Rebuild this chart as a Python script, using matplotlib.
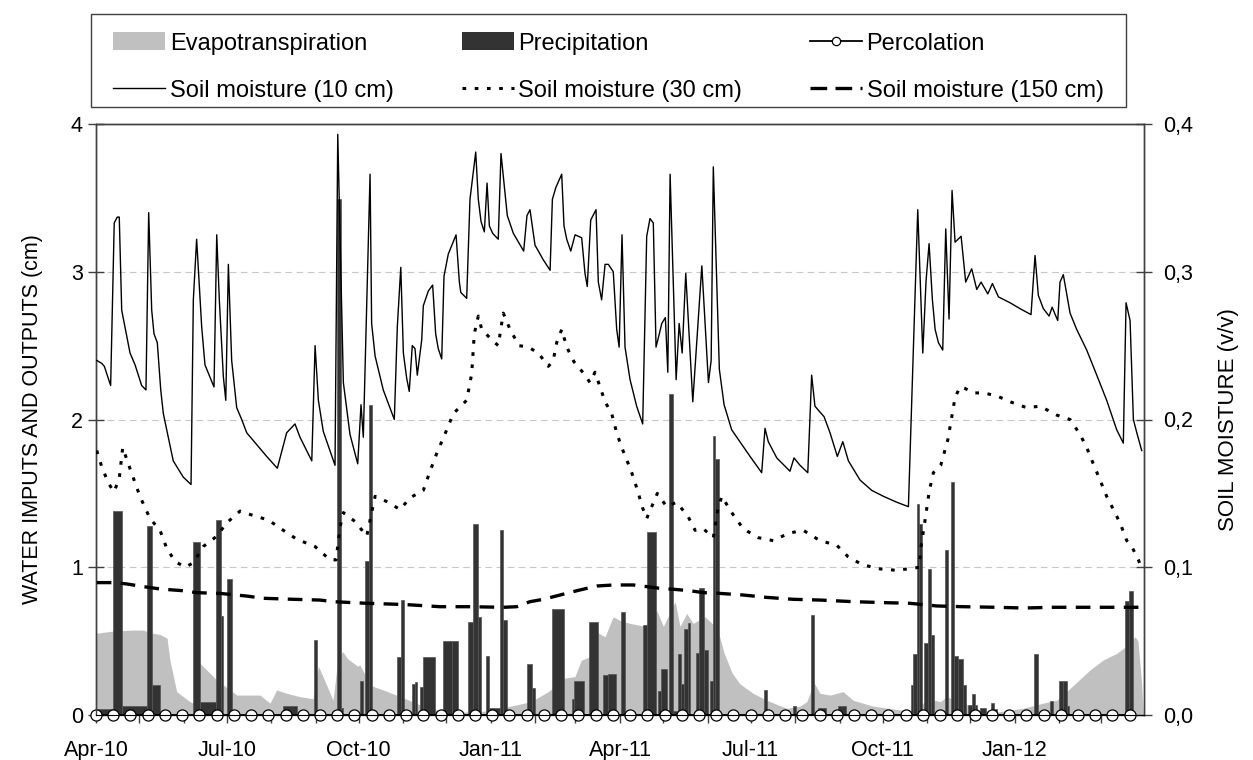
import matplotlib
matplotlib.use("Agg")
import matplotlib.pyplot as plt
import matplotlib.dates as mdates
from matplotlib.patches import Patch, Rectangle
from matplotlib.lines import Line2D
from matplotlib.ticker import FuncFormatter
import numpy as np
from datetime import datetime

plt.rcParams['font.family'] = ['Liberation Sans', 'DejaVu Sans']

# day offsets are counted from 1 April 2010
START = datetime(2010, 4, 1)

# evapotranspiration (cm), outline of the grey area
et_day = [0, 11.8, 25.8, 32.7, 39.7, 44.6, 49.5, 51.5, 56.2, 65.5, 67.6, 72.4, 84.1, 93.3, 98.0,
          114.2, 121.2, 125.9, 132.8, 142.1, 151.2, 154.9, 158.1, 165.1, 168.4, 171.8, 175.3,
          182.3, 183.7, 191.4, 203.2, 214.8, 228.7, 242.7, 265.8, 280.0, 289.0, 303.0, 315.0,
          326.6, 333.6, 338.0, 343.0, 348.8, 354.6, 360.2, 365.0, 372.0, 382.5, 390.6, 395.2,
          403.4, 406.8, 411.5, 415.9, 424.2, 429.1, 431.9, 437.5, 443.1, 448.6, 457.7, 467.2,
          481.1, 490.4, 495.1, 500.1, 504.3, 511.3, 520.4, 527.3, 541.3, 560.1, 567.1, 581.0,
          588.0, 592.6, 603.9, 615.8, 627.4, 645.7, 659.7, 669.2, 678.5, 692.4, 701.5, 711.0,
          720.3, 723.8, 725.8, 728.4, 729.3]
et_cm = [0.553, 0.568, 0.575, 0.575, 0.553, 0.545, 0.52, 0.37, 0.158, 0.09, 0.08, 0.35, 0.237,
         0.17, 0.135, 0.135, 0.08, 0.17, 0.147, 0.124, 0.11, 0.33, 0.26, 0.10, 0.37, 0.43, 0.38,
         0.33, 0.34, 0.20, 0.158, 0.113, 0.056, 0.02, 0.02, 0.04, 0.06, 0.09, 0.158, 0.25, 0.26,
         0.37, 0.39, 0.56, 0.53, 0.665, 0.64, 0.62, 0.60, 0.706, 0.60, 0.767, 0.60, 0.688, 0.62,
         0.665, 0.62, 0.62, 0.42, 0.284, 0.21, 0.147, 0.10, 0.045, 0.06, 0.09, 0.22, 0.147, 0.135,
         0.158, 0.10, 0.06, 0.034, 0.03, 0.108, 0.09, 0.124, 0.08, 0.034, 0.02, 0.045, 0.08, 0.10,
         0.18, 0.305, 0.372, 0.417, 0.485, 0.53, 0.50, 0.21, 0.02]

# precipitation (cm): start day, width in days, amount
pr_start = [0.5, 12.0, 18.1, 35.7, 38.8, 67.4, 72.4, 83.6, 86.9, 91.5, 130.0, 151.9, 167.7, 170.5,
            183.9, 187.4, 190.2, 209.5, 212.3, 219.9, 222.2, 225.7, 227.6, 241.9, 247.8, 259.3,
            262.4, 266.3, 271.7, 274.0, 281.4, 283.7, 300.0, 303.5, 317.4, 331.4, 333.2, 343.6,
            353.4, 356.9, 365.7, 381.2, 383.6, 391.3, 393.3, 399.1, 401.9, 405.2, 407.5, 409.8,
            412.2, 417.7, 420.0, 423.7, 427.7, 429.6, 431.5, 465.3, 485.7, 497.8, 502.9, 516.8,
            567.5, 568.9, 571.7, 573.5, 577.0, 579.7, 581.6, 591.4, 595.6, 597.9, 600.2, 604.1,
            607.2, 610.0, 612.3, 615.8, 623.2, 625.5, 653.6, 664.5, 671.0, 673.8, 676.2, 717.0,
            719.8]
pr_width = [11.3, 6.1, 17.6, 3.1, 5.8, 5.0, 11.2, 3.3, 1.8, 3.2, 10.0, 2.3, 2.8, 1.8, 2.3, 2.8,
            2.3, 2.8, 2.2, 2.3, 1.6, 1.9, 8.8, 5.9, 4.6, 3.1, 3.9, 1.9, 2.3, 7.4, 2.3, 2.8, 3.5,
            2.3, 8.6, 1.8, 6.7, 6.3, 3.5, 5.3, 3.0, 2.4, 6.5, 2.0, 4.6, 2.8, 2.6, 2.3, 2.3, 2.4,
            1.8, 2.3, 3.7, 2.8, 1.9, 1.9, 2.7, 2.3, 1.9, 2.3, 5.6, 5.6, 1.4, 2.8, 1.8, 2.1, 2.7,
            1.9, 2.3, 1.9, 2.3, 2.3, 3.9, 1.7, 2.8, 2.3, 1.6, 4.0, 2.3, 1.9, 2.4, 2.3, 2.8, 2.4,
            1.6, 2.8, 2.4]
pr_cm = [0.04, 1.38, 0.06, 1.28, 0.20, 1.17, 0.09, 1.32, 0.67, 0.92, 0.06, 0.51, 3.49, 0.05,
         0.23, 1.04, 2.10, 0.39, 0.78, 0.21, 0.22, 0.19, 0.39, 0.50, 0.50, 0.63, 1.29, 0.66, 0.40,
         0.05, 1.25, 0.64, 0.345, 0.18, 0.72, 0.11, 0.23, 0.63, 0.27, 0.28, 0.695, 0.61, 1.24,
         0.16, 0.31, 2.17, 0.03, 0.41, 0.21, 0.58, 0.62, 0.42, 0.86, 0.44, 0.23, 1.89, 1.73, 0.17,
         0.06, 0.68, 0.045, 0.063, 0.20, 0.41, 1.43, 1.29, 0.49, 0.99, 0.54, 1.12, 1.58, 0.40,
         0.38, 0.20, 0.07, 0.14, 0.07, 0.05, 0.08, 0.04, 0.41, 0.095, 0.23, 0.23, 0.06, 0.77, 0.84]

# percolation (cm), sampled every 12 days, always zero
perc_day = [0, 12, 24, 36, 48, 60, 72, 84, 96, 108, 120, 132, 144, 156, 168, 180, 192, 204, 216,
            228, 240, 252, 264, 276, 288, 300, 312, 324, 336, 348, 360, 372, 384, 396, 408, 420,
            432, 444, 456, 468, 480, 492, 504, 516, 528, 540, 552, 564, 576, 588, 600, 612, 624,
            636, 648, 660, 672, 684, 696, 708, 720]
perc_cm = [0, 0, 0, 0, 0, 0, 0, 0, 0, 0, 0, 0, 0, 0, 0, 0, 0, 0, 0, 0, 0, 0, 0, 0, 0, 0, 0, 0, 0,
           0, 0, 0, 0, 0, 0, 0, 0, 0, 0, 0, 0, 0, 0, 0, 0, 0, 0, 0, 0, 0, 0, 0, 0, 0, 0, 0, 0, 0,
           0, 0, 0]

# soil moisture at 10 cm (v/v)
sm10_day = [0.5, 4.0, 5.8, 10.2, 12.7, 14.8, 16.2, 17.9, 23.7, 27.2, 31.8, 34.8, 36.7, 38.8, 40.4,
            42.7, 45.1, 46.9, 53.8, 60.8, 66.2, 67.8, 70.1, 72.0, 73.6, 75.9, 82.2, 84.1, 85.9,
            88.7, 90.4, 92.2, 94.5, 98.0, 101.5, 105.0, 111.9, 118.9, 126.3, 132.8, 138.6, 142.1,
            150.3, 152.6, 154.9, 158.3, 166.5, 168.4, 172.3, 176.9, 182.3, 184.6, 186.2, 190.9,
            192.0, 194.4, 200.1, 203.6, 207.8, 209.9, 212.3, 214.1, 216.4, 218.2, 220.3, 222.2,
            223.8, 226.9, 228.0, 231.5, 234.5, 236.6, 238.4, 240.8, 242.4, 245.4, 250.8, 253.1,
            254.1, 258.2, 260.5, 264.5, 266.3, 268.2, 270.5, 272.4, 274.0, 276.3, 280.2, 282.1,
            286.5, 290.7, 297.9, 300.2, 302.3, 305.8, 311.6, 316.3, 317.9, 320.3, 324.4, 326.0,
            327.9, 330.7, 333.7, 338.3, 340.6, 342.2, 344.6, 348.3, 349.9, 352.2, 354.6, 356.9,
            360.3, 362.7, 364.4, 366.4, 368.5, 372.0, 376.6, 380.8, 383.6, 385.9, 388.2, 390.1,
            392.4, 394.1, 396.6, 398.3, 399.9, 404.1, 406.2, 408.3, 410.8, 415.7, 422.0, 426.6,
            428.5, 430.0, 434.2, 437.5, 442.8, 455.6, 463.7, 466.0, 468.3, 474.2, 483.4, 486.2,
            490.4, 495.8, 498.5, 500.8, 504.3, 507.1, 511.3, 516.4, 520.2, 524.1, 532.2, 540.4,
            548.5, 557.8, 565.9, 572.4, 575.9, 578.2, 580.3, 582.6, 584.5, 586.8, 589.8, 591.9,
            594.2, 596.3, 598.4, 602.6, 605.8, 610.0, 613.5, 616.5, 621.2, 624.4, 628.6, 636.7,
            643.7, 651.3, 654.1, 656.4, 659.9, 663.9, 666.0, 669.9, 671.5, 673.8, 678.5, 683.1,
            690.1, 697.1, 704.0, 711.0, 715.6, 717.5, 720.3, 722.6, 725.0, 728.4]
sm10 = [0.240, 0.238, 0.236, 0.223, 0.333, 0.337, 0.337, 0.274, 0.245, 0.237, 0.223, 0.220, 0.340,
        0.274, 0.258, 0.252, 0.220, 0.204, 0.172, 0.161, 0.156, 0.281, 0.322, 0.290, 0.263, 0.237,
        0.222, 0.325, 0.281, 0.229, 0.213, 0.305, 0.240, 0.208, 0.200, 0.191, 0.183, 0.175, 0.167,
        0.191, 0.197, 0.188, 0.172, 0.250, 0.213, 0.192, 0.169, 0.393, 0.225, 0.190, 0.170, 0.210,
        0.188, 0.366, 0.265, 0.243, 0.220, 0.211, 0.200, 0.263, 0.303, 0.245, 0.228, 0.219, 0.250,
        0.248, 0.230, 0.254, 0.277, 0.287, 0.291, 0.258, 0.248, 0.241, 0.297, 0.312, 0.325, 0.293,
        0.286, 0.282, 0.349, 0.381, 0.349, 0.334, 0.327, 0.360, 0.331, 0.326, 0.322, 0.380, 0.338,
        0.326, 0.314, 0.338, 0.342, 0.318, 0.308, 0.301, 0.349, 0.357, 0.366, 0.331, 0.322, 0.314,
        0.325, 0.323, 0.299, 0.290, 0.335, 0.342, 0.293, 0.281, 0.305, 0.305, 0.300, 0.261, 0.249,
        0.325, 0.249, 0.227, 0.209, 0.197, 0.324, 0.336, 0.333, 0.249, 0.258, 0.265, 0.269, 0.232,
        0.366, 0.227, 0.265, 0.245, 0.299, 0.212, 0.304, 0.225, 0.240, 0.371, 0.234, 0.210, 0.193,
        0.175, 0.164, 0.194, 0.185, 0.174, 0.165, 0.174, 0.169, 0.164, 0.230, 0.209, 0.205, 0.202,
        0.191, 0.175, 0.185, 0.172, 0.159, 0.152, 0.148, 0.144, 0.141, 0.342, 0.245, 0.294, 0.319,
        0.281, 0.261, 0.252, 0.247, 0.329, 0.268, 0.355, 0.320, 0.324, 0.293, 0.302, 0.288, 0.293,
        0.285, 0.292, 0.283, 0.279, 0.275, 0.271, 0.311, 0.284, 0.275, 0.270, 0.276, 0.267, 0.293,
        0.298, 0.272, 0.261, 0.247, 0.230, 0.213, 0.193, 0.184, 0.279, 0.267, 0.200, 0.191, 0.179]

# soil moisture at 30 cm (v/v)
sm30_day = [0.5, 4.0, 8.6, 12.5, 16.2, 18.6, 22.5, 30.6, 37.6, 44.6, 49.2, 55.0, 62.0, 67.8, 74.7,
            84.1, 91.0, 100.3, 109.6, 120.0, 130.5, 139.8, 152.6, 163.0, 167.2, 170.0, 172.3,
            180.4, 188.6, 192.0, 194.4, 203.6, 211.8, 218.7, 228.0, 232.7, 237.3, 244.3, 248.9,
            258.2, 261.7, 263.5, 266.3, 268.7, 275.6, 280.2, 283.7, 288.4, 294.6, 301.1, 308.1,
            315.1, 318.5, 320.9, 324.4, 327.9, 333.0, 339.9, 344.1, 347.6, 351.1, 354.6, 359.2,
            362.7, 366.2, 370.8, 374.3, 377.8, 380.8, 383.6, 387.1, 391.0, 397.5, 404.5, 412.6,
            417.3, 423.1, 430.0, 433.1, 435.9, 442.8, 450.9, 461.4, 471.8, 482.3, 492.7, 504.3,
            515.9, 524.0, 533.3, 544.9, 556.6, 567.0, 573.5, 574.7, 577.5, 580.5, 583.3, 588.4,
            593.3, 595.6, 598.4, 601.9, 605.4, 611.2, 618.1, 627.5, 636.7, 648.3, 657.6, 669.2,
            678.5, 685.4, 690.1, 694.7, 699.4, 704.0, 708.7, 713.3, 718.0, 721.5, 726.1, 728.4]
sm30 = [0.179, 0.168, 0.157, 0.151, 0.160, 0.181, 0.170, 0.148, 0.133, 0.125, 0.113, 0.104, 0.100,
        0.103, 0.114, 0.121, 0.130, 0.138, 0.135, 0.132, 0.125, 0.119, 0.114, 0.105, 0.105, 0.127,
        0.137, 0.131, 0.121, 0.137, 0.148, 0.144, 0.139, 0.147, 0.152, 0.165, 0.177, 0.193, 0.204,
        0.213, 0.231, 0.258, 0.270, 0.261, 0.254, 0.250, 0.272, 0.261, 0.250, 0.249, 0.245, 0.236,
        0.240, 0.252, 0.261, 0.249, 0.239, 0.231, 0.225, 0.232, 0.222, 0.212, 0.204, 0.191, 0.181,
        0.170, 0.161, 0.150, 0.140, 0.133, 0.141, 0.150, 0.141, 0.144, 0.134, 0.125, 0.126, 0.120,
        0.139, 0.148, 0.137, 0.126, 0.120, 0.118, 0.123, 0.125, 0.118, 0.115, 0.107, 0.102, 0.099,
        0.098, 0.099, 0.100, 0.114, 0.132, 0.152, 0.164, 0.169, 0.186, 0.199, 0.215, 0.222, 0.221,
        0.218, 0.218, 0.216, 0.212, 0.208, 0.209, 0.203, 0.200, 0.190, 0.181, 0.170, 0.159, 0.148,
        0.139, 0.130, 0.118, 0.114, 0.105, 0.099]

# soil moisture at 150 cm (v/v)
sm150_day = [0.5, 13.2, 21.4, 32.9, 44.6, 60.8, 70.1, 86.4, 105.0, 116.5, 137.4, 156.0, 165.3,
             188.6, 204.8, 216.4, 239.6, 260.5, 283.7, 293.1, 302.3, 311.6, 323.2, 334.9, 348.8,
             360.4, 374.3, 383.6, 392.9, 402.2, 413.8, 423.1, 434.7, 450.9, 467.2, 485.8, 504.3,
             527.5, 550.8, 567.0, 585.6, 604.2, 627.5, 646.0, 666.9, 728.4]
sm150 = [0.0896, 0.0896, 0.0887, 0.0869, 0.0853, 0.0841, 0.0828, 0.0823, 0.0805, 0.0790, 0.0783,
         0.0778, 0.0767, 0.0756, 0.0751, 0.0747, 0.0733, 0.0733, 0.0729, 0.0733, 0.0767, 0.0783,
         0.0812, 0.0841, 0.0873, 0.0880, 0.0880, 0.0869, 0.0857, 0.0851, 0.0841, 0.0828, 0.0823,
         0.0812, 0.0796, 0.0783, 0.0778, 0.0767, 0.0760, 0.0756, 0.0738, 0.0733, 0.0729, 0.0724,
         0.0729, 0.0729]


def to_x(days):
    return mdates.date2num(START) + np.asarray(days, dtype=float)


fig = plt.figure(figsize=(12.53, 7.6), dpi=100)
ax1 = fig.add_axes([96 / 1253, 1 - 715 / 760, 1048 / 1253, 591 / 760])
ax2 = ax1.twinx()

ax1.fill_between(to_x(et_day), 0, et_cm, color='#c0c0c0', lw=0, zorder=1)
ax1.bar(to_x(pr_start), pr_cm, width=pr_width, align='edge', color='#333333',
        edgecolor='#555555', linewidth=0.5, zorder=2)
ax1.plot(to_x(perc_day), perc_cm, color='black', lw=1.3, marker='o', ms=8,
         mfc='white', mec='black', mew=0.9, zorder=6, clip_on=False)

ax2.plot(to_x(sm10_day), sm10, color='black', lw=1.0, zorder=3)
ax2.plot(to_x(sm30_day), sm30, color='black', lw=2.2, dashes=(1.2, 2.8), zorder=3)
ax2.plot(to_x(sm150_day), sm150, color='black', lw=2.4, dashes=(4.4, 2.8), zorder=3)

ax1.set_xlim(to_x(0), to_x(730))
ax1.set_ylim(0, 4)
ax2.set_ylim(0, 0.4)

ax1.set_yticks([0, 1, 2, 3, 4])
ax2.set_yticks([0, 0.1, 0.2, 0.3, 0.4])
ax2.yaxis.set_major_formatter(FuncFormatter(lambda v, p: f"{v:.1f}".replace('.', ',')))

ax1.xaxis.set_major_locator(mdates.MonthLocator(bymonth=[1, 4, 7, 10]))
ax1.xaxis.set_major_formatter(mdates.DateFormatter('%b-%y'))
ax1.xaxis.set_minor_locator(mdates.MonthLocator())

ax1.yaxis.grid(True, color='#c8c8c8', linestyle=(0, (6, 4)), lw=0.8)
ax1.set_axisbelow(True)

ax1.tick_params(axis='x', which='both', direction='out', length=6, width=1,
                color='#404040', labelsize=15.5, pad=12)
ax1.tick_params(axis='y', direction='inout', length=11, width=1, color='#404040',
                labelsize=15.5, pad=4)
ax2.tick_params(axis='y', direction='inout', length=11, width=1, color='#404040',
                labelsize=15.5, pad=8)

for ax in (ax1, ax2):
    for side in ('left', 'right', 'top'):
        ax.spines[side].set_color('#404040')
        ax.spines[side].set_linewidth(1.0)
    ax.spines['bottom'].set_color('black')

ax1.set_ylabel('WATER IMPUTS AND OUTPUTS (cm)', fontsize=15.5)
ax1.yaxis.set_label_coords(-0.051, 0.5)
ax2.set_ylabel('SOIL MOISTURE (v/v)', fontsize=16, rotation=90)
ax2.yaxis.set_label_coords(1.071, 0.5)

handles = [
    Patch(facecolor='#c0c0c0', edgecolor='none'),
    Line2D([], [], color='black', lw=1.0),
    Patch(facecolor='#333333', edgecolor='none'),
    Line2D([], [], color='black', lw=2.2, dashes=(1.2, 2.8)),
    Line2D([], [], color='black', lw=1.3, marker='o', ms=6, mfc='white', mec='black', mew=0.9),
    Line2D([], [], color='black', lw=2.4, dashes=(5.0, 2.5)),
]
labels = ['Evapotranspiration', 'Soil moisture (10 cm)', 'Precipitation',
          'Soil moisture (30 cm)', 'Percolation', 'Soil moisture (150 cm)']
leg = fig.legend(handles, labels, ncol=3, mode='expand', loc='center',
                 bbox_to_anchor=(91 / 1253, 1 - 67 / 760, 1035 / 1253, 0),
                 borderaxespad=0, fontsize=17, handlelength=2.2, handleheight=0.8,
                 handletextpad=0.2, borderpad=0.95, labelspacing=1.05, frameon=False)

# legend box drawn separately (the text sits a little below its centre)
fig.add_artist(Rectangle((91 / 1253, 1 - 107 / 760), 1035 / 1253, 93 / 760,
                         transform=fig.transFigure, fill=False, edgecolor='#404040', lw=1.0))

fig.savefig('out.png', dpi=100)
